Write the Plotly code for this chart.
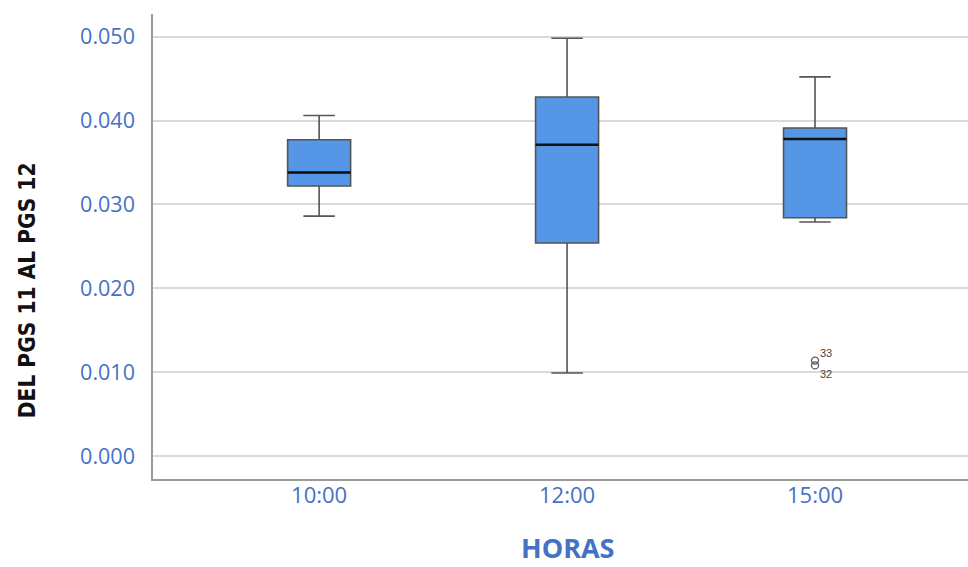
import plotly.graph_objects as go

categories = ["10:00", "12:00", "15:00"]
lower_whisker = [0.0286, 0.0099, 0.0279]
q1_values = [0.0322, 0.0254, 0.0284]
median_values = [0.0338, 0.0371, 0.0378]
q3_values = [0.0377, 0.0428, 0.0391]
upper_whisker = [0.0406, 0.0498, 0.0452]
outlier_cat = [2, 2]
outlier_values = [0.01138, 0.01080]
outlier_labels = ["33", "32"]
y_ticks = [0.0, 0.01, 0.02, 0.03, 0.04, 0.05]

pos = list(range(len(categories)))
BW = 0.254
blue = "#4472C4"

fig = go.Figure()
fig.add_trace(go.Box(
    x=pos, q1=q1_values, median=median_values, q3=q3_values,
    lowerfence=lower_whisker, upperfence=upper_whisker,
    width=BW, whiskerwidth=0.5,
    fillcolor="#5596E6", line=dict(color="#555555", width=1.6),
    boxpoints=False, showlegend=False, hoverinfo="skip",
))
for i, m in enumerate(median_values):
    fig.add_trace(go.Scatter(
        x=[pos[i] - BW / 2, pos[i] + BW / 2], y=[m, m], mode="lines",
        line=dict(color="#111111", width=2.5), showlegend=False, hoverinfo="skip"))
fig.add_trace(go.Scatter(
    x=[pos[c] for c in outlier_cat], y=outlier_values, mode="markers",
    marker=dict(symbol="circle-open", size=7, color="#555555", line=dict(width=1.3)),
    showlegend=False, hoverinfo="skip"))
for c, v, lab, dy in zip(outlier_cat, outlier_values, outlier_labels, [8, -9]):
    fig.add_annotation(x=pos[c], y=v, text=lab, showarrow=False, xshift=11, yshift=dy,
                       font=dict(size=11, color="#444444", family="Liberation Sans"))

# axis titles
fig.add_annotation(xref="paper", yref="paper", x=0, y=0.406, xshift=-126,
                   text="<b>DEL PGS 11 AL PGS 12</b>", textangle=-90, showarrow=False,
                   xanchor="center", yanchor="middle",
                   font=dict(size=22.5, color="#111111",
                             family="Liberation Sans Narrow, DejaVu Sans Condensed, Liberation Sans"))
fig.add_annotation(xref="x", yref="paper", x=pos[1], y=-0.148,
                   text="<b>HORAS</b>", showarrow=False, xanchor="center", yanchor="middle",
                   font=dict(size=27, color=blue, family="Open Sans"))

fig.update_layout(
    width=968, height=567,
    margin=dict(l=153, r=0, t=14, b=88, autoexpand=False),
    plot_bgcolor="white", paper_bgcolor="white",
    xaxis=dict(
        range=[-0.67, 2.617], tickvals=pos, ticktext=categories,
        showgrid=False, zeroline=False, showline=True, linecolor="#9a9a9a", linewidth=1.5,
        tickfont=dict(size=22, color=blue, family="Open Sans"), ticks="",
        ticklabelstandoff=-4, automargin=False,
    ),
    yaxis=dict(
        range=[-0.00274, 0.0527], tickvals=y_ticks, ticktext=[f"{t:.3f}" for t in y_ticks],
        showgrid=True, gridcolor="#d9d9d9", gridwidth=1.5, zeroline=False,
        showline=True, linecolor="#9a9a9a", linewidth=1.5, ticks="outside",
        ticklen=12, tickcolor="rgba(0,0,0,0)", automargin=False,
        tickfont=dict(size=21.5, color=blue, family="Open Sans"),
    ),
)

fig.write_html("out.html", config={"displayModeBar": False},
               post_script="document.body.style.margin='0px';")
